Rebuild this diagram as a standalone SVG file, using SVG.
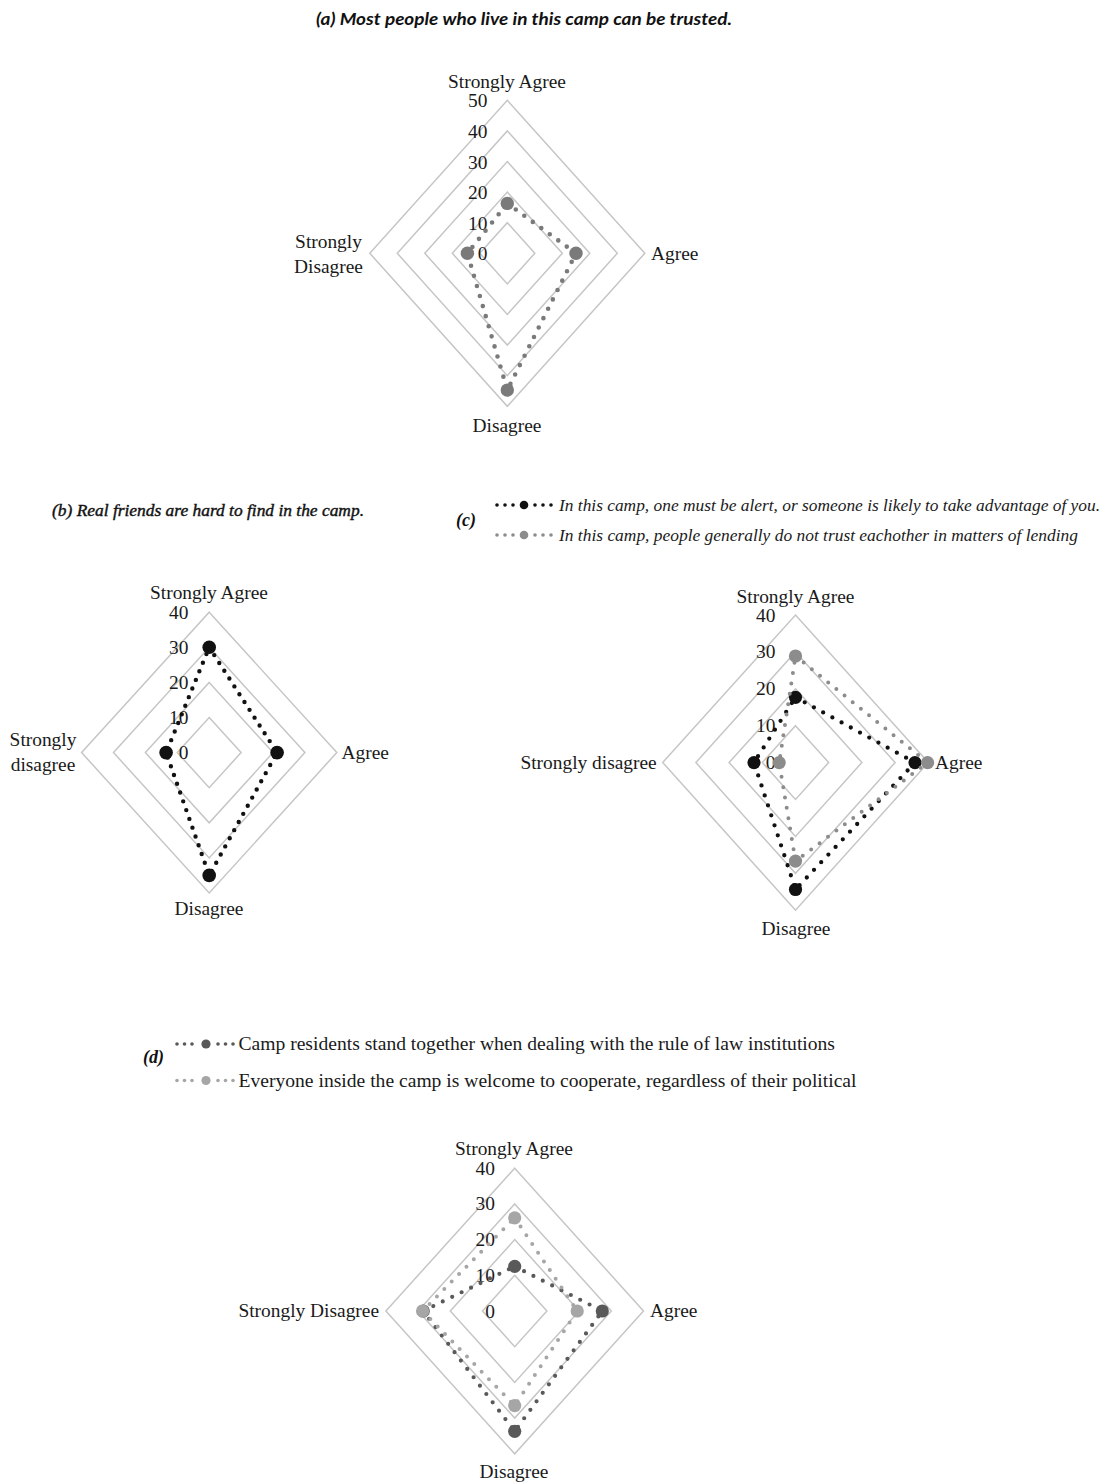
<svg xmlns="http://www.w3.org/2000/svg" width="1108" height="1484" viewBox="0 0 1108 1484">
<style>
.bg{fill:#ffffff}
.ring{fill:none;stroke:#c6c6c6;stroke-width:1.5}
.lbl{font-family:"Liberation Serif","Times New Roman",serif;font-size:19.4px;fill:#1a1a1a}
.num{font-family:"Liberation Serif","Times New Roman",serif;font-size:19.4px;fill:#1a1a1a;text-anchor:end}
.mid{text-anchor:middle}
.end{text-anchor:end}
.ttlA{font-family:Lato,"Open Sans","Liberation Sans",sans-serif;font-size:17.5px;font-weight:bold;font-style:italic;fill:#111}
.ttlB{font-family:"Liberation Serif","Times New Roman",serif;font-size:17px;font-style:italic;fill:#111;stroke:#111;stroke-width:0.4}
.tag{font-family:"Liberation Serif","Times New Roman",serif;font-size:18px;font-style:italic;font-weight:bold;fill:#111}
.legC{font-family:"Liberation Serif","Times New Roman",serif;font-size:17.5px;font-style:italic;fill:#1a1a1a}
.legD{font-family:"Liberation Serif","Times New Roman",serif;font-size:18.5px;fill:#1a1a1a}
.dotline{fill:none;stroke-linecap:round;stroke-linejoin:round}
.sA{stroke:#7a7a7a;stroke-width:4.6;stroke-dasharray:0 10.5}
.sB{stroke:#111111;stroke-width:4.4;stroke-dasharray:0 9.3}
.sCk{stroke:#111111;stroke-width:4.3;stroke-dasharray:0 10.5}
.sCg{stroke:#8c8c8c;stroke-width:4;stroke-dasharray:0 10.5}
.sDd{stroke:#595959;stroke-width:4.2;stroke-dasharray:0 10.5}
.sDl{stroke:#a6a6a6;stroke-width:4;stroke-dasharray:0 10.5}
.fA{fill:#7a7a7a}
.fK{fill:#111111}
.fG{fill:#8c8c8c}
.fDd{fill:#595959}
.fDl{fill:#a6a6a6}
</style>
<rect class="bg" x="0" y="0" width="1108" height="1484"/>

<!-- Chart (a) -->
<g id="chart-a">
  <text class="ttlA" x="316" y="24.5" textLength="416" lengthAdjust="spacingAndGlyphs">(a) Most people who live in this camp can be trusted.</text>
  <g id="chart-a-rings">
    <polygon class="ring" points="507.3,222.7 534.8,253.3 507.3,283.9 479.8,253.3"/>
    <polygon class="ring" points="507.3,192.1 562.3,253.3 507.3,314.5 452.3,253.3"/>
    <polygon class="ring" points="507.3,161.5 589.8,253.3 507.3,345.1 424.8,253.3"/>
    <polygon class="ring" points="507.3,130.9 617.3,253.3 507.3,375.7 397.3,253.3"/>
    <polygon class="ring" points="507.3,100.3 644.8,253.3 507.3,406.3 369.8,253.3"/>
  </g>
  <g id="chart-a-scale">
    <text class="num" x="487.5" y="107.3">50</text>
    <text class="num" x="487.5" y="137.9">40</text>
    <text class="num" x="487.5" y="168.5">30</text>
    <text class="num" x="487.5" y="199.1">20</text>
    <text class="num" x="487.5" y="229.7">10</text>
    <text class="num" x="487.5" y="260.3">0</text>
  </g>
  <g id="chart-a-axes">
    <text class="lbl mid" x="507" y="88">Strongly Agree</text>
    <text class="lbl" x="651" y="260">Agree</text>
    <text class="lbl mid" x="328.5" y="248">Strongly</text>
    <text class="lbl mid" x="328.5" y="273">Disagree</text>
    <text class="lbl mid" x="507" y="432">Disagree</text>
  </g>
  <g id="chart-a-series">
    <polygon class="dotline sA" points="507.3,203.4 576,253.3 507.3,390.1 467.4,253.3"/>
    <circle class="fA" cx="507.3" cy="203.4" r="6.7"/>
    <circle class="fA" cx="576" cy="253.3" r="6.7"/>
    <circle class="fA" cx="507.3" cy="390.1" r="6.7"/>
    <circle class="fA" cx="467.4" cy="253.3" r="6.7"/>
  </g>
</g>

<!-- Chart (b) -->
<g id="chart-b">
  <text class="ttlB" x="52" y="516" textLength="312" lengthAdjust="spacingAndGlyphs">(b) Real friends are hard to find in the camp.</text>
  <g id="chart-b-rings">
    <polygon class="ring" points="209.2,717.5 241.1,752.6 209.2,787.7 177.3,752.6"/>
    <polygon class="ring" points="209.2,682.4 273,752.6 209.2,822.8 145.4,752.6"/>
    <polygon class="ring" points="209.2,647.3 304.9,752.6 209.2,857.9 113.5,752.6"/>
    <polygon class="ring" points="209.2,612.2 336.8,752.6 209.2,893 81.6,752.6"/>
  </g>
  <g id="chart-b-scale">
    <text class="num" x="188.5" y="618.7">40</text>
    <text class="num" x="188.5" y="653.8">30</text>
    <text class="num" x="188.5" y="688.9">20</text>
    <text class="num" x="188.5" y="724">10</text>
    <text class="num" x="188.5" y="759.1">0</text>
  </g>
  <g id="chart-b-axes">
    <text class="lbl mid" x="209" y="599">Strongly Agree</text>
    <text class="lbl" x="341.5" y="759">Agree</text>
    <text class="lbl mid" x="43" y="746">Strongly</text>
    <text class="lbl mid" x="43" y="771">disagree</text>
    <text class="lbl mid" x="209" y="915">Disagree</text>
  </g>
  <g id="chart-b-series">
    <polygon class="dotline sB" points="209.2,647.3 277.1,752.6 209.2,875.4 166.1,752.6"/>
    <circle class="fK" cx="209.2" cy="647.3" r="6.8"/>
    <circle class="fK" cx="277.1" cy="752.6" r="6.8"/>
    <circle class="fK" cx="209.2" cy="875.4" r="6.8"/>
    <circle class="fK" cx="166.1" cy="752.6" r="6.8"/>
  </g>
</g>

<!-- Chart (c) -->
<g id="chart-c">
  <text class="tag" x="456" y="526">(c)</text>
  <g id="chart-c-legend">
    <circle class="fK" cx="497" cy="505" r="1.8"/>
    <circle class="fK" cx="505" cy="505" r="1.8"/>
    <circle class="fK" cx="513" cy="505" r="1.8"/>
    <circle class="fK" cx="524" cy="505" r="4.3"/>
    <circle class="fK" cx="535" cy="505" r="1.8"/>
    <circle class="fK" cx="543" cy="505" r="1.8"/>
    <circle class="fK" cx="551" cy="505" r="1.8"/>
    <text class="legC" x="559" y="511" textLength="541" lengthAdjust="spacingAndGlyphs">In this camp, one must be alert, or someone is likely to take advantage of you.</text>
    <circle class="fG" cx="497" cy="535" r="1.8"/>
    <circle class="fG" cx="505" cy="535" r="1.8"/>
    <circle class="fG" cx="513" cy="535" r="1.8"/>
    <circle class="fG" cx="524" cy="535" r="4.3"/>
    <circle class="fG" cx="535" cy="535" r="1.8"/>
    <circle class="fG" cx="543" cy="535" r="1.8"/>
    <circle class="fG" cx="551" cy="535" r="1.8"/>
    <text class="legC" x="559" y="541" textLength="519" lengthAdjust="spacingAndGlyphs">In this camp, people generally do not trust eachother in matters of lending</text>
  </g>
  <g id="chart-c-rings">
    <polygon class="ring" points="795.5,725.7 828.7,762.6 795.5,799.5 762.3,762.6"/>
    <polygon class="ring" points="795.5,688.8 861.9,762.6 795.5,836.4 729.1,762.6"/>
    <polygon class="ring" points="795.5,651.9 895.1,762.6 795.5,873.3 695.9,762.6"/>
    <polygon class="ring" points="795.5,615 928.3,762.6 795.5,910.2 662.7,762.6"/>
  </g>
  <g id="chart-c-scale">
    <text class="num" x="775.5" y="621.5">40</text>
    <text class="num" x="775.5" y="658.4">30</text>
    <text class="num" x="775.5" y="695.3">20</text>
    <text class="num" x="775.5" y="732.2">10</text>
    <text class="num" x="775.5" y="769.1">0</text>
  </g>
  <g id="chart-c-axes">
    <text class="lbl mid" x="795.5" y="603">Strongly Agree</text>
    <text class="lbl" x="935" y="769">Agree</text>
    <text class="lbl end" x="656.7" y="769">Strongly disagree</text>
    <text class="lbl mid" x="796" y="935">Disagree</text>
  </g>
  <g id="chart-c-series">
    <polygon class="dotline sCk" points="795.5,697.3 915,762.6 795.5,889.5 754,762.6"/>
    <circle class="fK" cx="795.5" cy="697.3" r="6.6"/>
    <circle class="fK" cx="915" cy="762.6" r="6.6"/>
    <circle class="fK" cx="795.5" cy="889.5" r="6.6"/>
    <circle class="fK" cx="754" cy="762.6" r="6.6"/>
    <polygon class="dotline sCg" points="795.5,656 927.6,762.6 795.5,861.1 779.2,762.6"/>
    <circle class="fG" cx="795.5" cy="656" r="6.6"/>
    <circle class="fG" cx="927.6" cy="762.6" r="6.6"/>
    <circle class="fG" cx="795.5" cy="861.1" r="6.6"/>
    <circle class="fG" cx="779.2" cy="762.6" r="6.6"/>
  </g>
</g>

<!-- Chart (d) -->
<g id="chart-d">
  <text class="tag" x="143" y="1063">(d)</text>
  <g id="chart-d-legend">
    <circle class="fDd" cx="177" cy="1044" r="1.8"/>
    <circle class="fDd" cx="184.5" cy="1044" r="1.8"/>
    <circle class="fDd" cx="192" cy="1044" r="1.8"/>
    <circle class="fDd" cx="206" cy="1044" r="4.6"/>
    <circle class="fDd" cx="218" cy="1044" r="1.8"/>
    <circle class="fDd" cx="225.5" cy="1044" r="1.8"/>
    <circle class="fDd" cx="233" cy="1044" r="1.8"/>
    <text class="legD" x="238.5" y="1050" textLength="596.5" lengthAdjust="spacingAndGlyphs">Camp residents stand together when dealing with the rule of law institutions</text>
    <circle class="fDl" cx="177" cy="1080.5" r="1.8"/>
    <circle class="fDl" cx="184.5" cy="1080.5" r="1.8"/>
    <circle class="fDl" cx="192" cy="1080.5" r="1.8"/>
    <circle class="fDl" cx="206" cy="1080.5" r="4.6"/>
    <circle class="fDl" cx="218" cy="1080.5" r="1.8"/>
    <circle class="fDl" cx="225.5" cy="1080.5" r="1.8"/>
    <circle class="fDl" cx="233" cy="1080.5" r="1.8"/>
    <text class="legD" x="238.5" y="1087" textLength="618" lengthAdjust="spacingAndGlyphs">Everyone inside the camp is welcome to cooperate, regardless of their political</text>
  </g>
  <g id="chart-d-rings">
    <polygon class="ring" points="514.7,1275.3 546.9,1311 514.7,1346.7 482.5,1311"/>
    <polygon class="ring" points="514.7,1239.6 579.1,1311 514.7,1382.4 450.3,1311"/>
    <polygon class="ring" points="514.7,1203.9 611.3,1311 514.7,1418.1 418.1,1311"/>
    <polygon class="ring" points="514.7,1168.2 643.5,1311 514.7,1453.8 385.9,1311"/>
  </g>
  <g id="chart-d-scale">
    <text class="num" x="495" y="1174.7">40</text>
    <text class="num" x="495" y="1210.4">30</text>
    <text class="num" x="495" y="1246.1">20</text>
    <text class="num" x="495" y="1281.8">10</text>
    <text class="num" x="495" y="1317.5">0</text>
  </g>
  <g id="chart-d-axes">
    <text class="lbl mid" x="514" y="1155">Strongly Agree</text>
    <text class="lbl" x="650" y="1317">Agree</text>
    <text class="lbl end" x="379" y="1317">Strongly Disagree</text>
    <text class="lbl mid" x="514" y="1478">Disagree</text>
  </g>
  <g id="chart-d-series">
    <polygon class="dotline sDd" points="514.7,1266.4 602.3,1311 514.7,1431.3 423.2,1311"/>
    <circle class="fDd" cx="514.7" cy="1266.4" r="6.6"/>
    <circle class="fDd" cx="602.3" cy="1311" r="6.6"/>
    <circle class="fDd" cx="514.7" cy="1431.3" r="6.6"/>
    <circle class="fDd" cx="423.2" cy="1311" r="6.6"/>
    <polygon class="dotline sDl" points="514.7,1217.8 577.2,1311 514.7,1405.6 422.6,1311"/>
    <circle class="fDl" cx="514.7" cy="1217.8" r="6.6"/>
    <circle class="fDl" cx="577.2" cy="1311" r="6.6"/>
    <circle class="fDl" cx="514.7" cy="1405.6" r="6.6"/>
    <circle class="fDl" cx="422.6" cy="1311" r="6.6"/>
  </g>
</g>
</svg>
